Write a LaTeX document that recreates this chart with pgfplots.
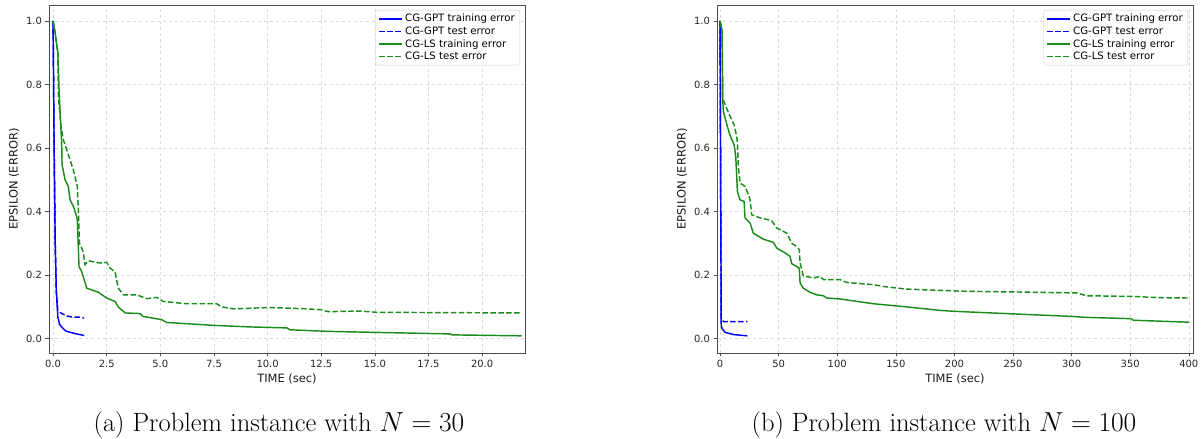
\documentclass[border=0pt]{standalone}
\usepackage{pgfplots}
\pgfplotsset{compat=1.18}
\usepackage{fontspec}
\newfontfamily\dv{DejaVu Sans}
\definecolor{mblue}{rgb}{0,0,1}
\definecolor{mgreen}{rgb}{0.1,0.55,0.1}
\tikzset{tdash/.style={dash pattern=on 5.5bp off 2.4bp}}
\pgfplotsset{myax/.style={
  scale only axis, width=476bp, height=348bp,
  ymin=-0.045, ymax=1.05,
  ytick={0,0.2,0.4,0.6,0.8,1.0},
  yticklabel style={/pgf/number format/fixed,/pgf/number format/fixed zerofill,/pgf/number format/precision=1},
  /pgf/number format/assume math mode=true,
  ticklabel style={font=\dv\fontsize{10}{12}\selectfont, text=black!85},
  label style={font=\dv\fontsize{11.5}{13}\selectfont, text=black!90},
  grid=major, grid style={dashed, black!15, line width=0.5bp},
  axis line style={black!70, line width=0.8bp},
  tick align=outside, tick pos=left, major tick length=3.5bp,
  tick style={black!70, line width=0.6bp},
  xlabel={TIME (sec)}, ylabel={EPSILON (ERROR)},
  xlabel style={at={(axis description cs:0.5,0)}, anchor=north, yshift=-17bp},
  ylabel style={at={(axis description cs:-0.0735,0.5)}, anchor=center},
  legend style={at={(1,1)}, anchor=north east, xshift=-5bp, yshift=-5bp,
    font=\dv\fontsize{10.2}{12}\selectfont, draw=black!20, rounded corners=2pt,
    row sep=-0.5bp, inner xsep=3bp, inner ysep=2bp},
  legend cell align=left,
  every axis plot/.append style={line width=1.45bp},
  gs/.style={mblue, legend image code/.code={\draw[mblue,line width=1.45bp] (0bp,0bp) -- (23bp,0bp);}},
  gd/.style={mblue, tdash, legend image code/.code={\draw[mblue,line width=1.45bp,tdash] (0bp,0bp) -- (23bp,0bp);}},
  ls/.style={mgreen, legend image code/.code={\draw[mgreen,line width=1.45bp] (0bp,0bp) -- (23bp,0bp);}},
  ld/.style={mgreen, tdash, legend image code/.code={\draw[mgreen,line width=1.45bp,tdash] (0bp,0bp) -- (23bp,0bp);}},
}}
\begin{document}
\begin{tikzpicture}[x=1bp,y=1bp]
\path[use as bounding box] (0,0) rectangle (1201,439);
\begin{axis}[myax, at={(49bp,86bp)}, anchor=south west,
  xmin=-0.19, xmax=22.0,
  xtick={0,2.5,5,7.5,10,12.5,15,17.5,20},
  xticklabel style={/pgf/number format/fixed,/pgf/number format/fixed zerofill,/pgf/number format/precision=1}]
\addplot[gs] coordinates {(0,1.0) (0.05,0.6) (0.1,0.3) (0.15,0.15) (0.22,0.07) (0.3,0.045) (0.45,0.033) (0.6,0.024) (0.8,0.02) (1.1,0.015) (1.45,0.01)};
\addlegendentry{CG-GPT training error}
\addplot[gd] coordinates {(0,1.0) (0.05,0.6) (0.1,0.3) (0.15,0.15) (0.22,0.09) (0.3,0.083) (0.45,0.078) (0.6,0.072) (0.9,0.068) (1.2,0.068) (1.45,0.065)};
\addlegendentry{CG-GPT test error}
\addplot[ls] coordinates {(0,1.0) (0.1,0.96) (0.22,0.9) (0.28,0.78) (0.35,0.68) (0.4,0.62) (0.42,0.547) (0.56,0.5) (0.71,0.479) (0.79,0.437) (0.95,0.416) (1.1,0.385) (1.13,0.374) (1.21,0.227) (1.34,0.21) (1.57,0.159) (2.11,0.146) (2.5,0.128) (2.89,0.117) (3.04,0.10) (3.36,0.081) (4.05,0.079) (4.2,0.07) (5.06,0.06) (5.3,0.051) (7.47,0.042) (9.18,0.037) (10.9,0.034) (11.04,0.028) (12.83,0.023) (18.5,0.015) (18.6,0.012) (21.84,0.009)};
\addlegendentry{CG-LS training error}
\addplot[ld] coordinates {(0,1.0) (0.1,0.96) (0.22,0.9) (0.25,0.76) (0.37,0.668) (0.48,0.626) (0.64,0.594) (0.95,0.53) (1.13,0.479) (1.18,0.40) (1.23,0.30) (1.34,0.285) (1.41,0.27) (1.49,0.233) (1.65,0.245) (2.19,0.238) (2.5,0.24) (2.66,0.222) (2.89,0.21) (3.04,0.159) (3.28,0.138) (3.9,0.138) (4.37,0.126) (4.83,0.13) (5.14,0.117) (6.23,0.11) (7.63,0.11) (7.86,0.10) (8.4,0.094) (10.1,0.098) (11.8,0.094) (12.5,0.091) (12.83,0.085) (14.3,0.087) (15.1,0.083) (21.76,0.081)};
\addlegendentry{CG-LS test error}
\end{axis}
\begin{axis}[myax, at={(717bp,86bp)}, anchor=south west,
  xmin=-2.6, xmax=403.6,
  xtick={0,50,100,150,200,250,300,350,400}]
\addplot[gs] coordinates {(0,1.0) (0.5,0.5) (1,0.04) (2,0.03) (4.3,0.02) (11.4,0.013) (23.3,0.009)};
\addlegendentry{CG-GPT training error}
\addplot[gd] coordinates {(0,1.0) (0.5,0.5) (1,0.065) (2.8,0.054) (23.3,0.054)};
\addlegendentry{CG-GPT test error}
\addplot[ls] coordinates {(0,1.0) (1.7,0.97) (2.3,0.75) (2.8,0.715) (6.2,0.668) (8.5,0.64) (12,0.61) (13.4,0.573) (14.8,0.463) (17,0.437) (20.5,0.432) (21.3,0.38) (25.6,0.364) (28.4,0.332) (37,0.313) (45.5,0.303) (48.4,0.285) (55.5,0.27) (59.7,0.259) (61.2,0.236) (65.4,0.227) (67.6,0.222) (68.3,0.175) (71,0.159) (76.8,0.146) (82.5,0.138) (88.2,0.135) (91,0.128) (102.4,0.125) (130.8,0.11) (159.3,0.10) (187.7,0.089) (200.5,0.086) (250.3,0.078) (300.6,0.07) (312.9,0.067) (350.7,0.063) (352.7,0.058) (400,0.052)};
\addlegendentry{CG-LS training error}
\addplot[ld] coordinates {(0,1.0) (1.7,0.97) (2.3,0.76) (2.8,0.75) (5.1,0.73) (8.5,0.70) (12,0.673) (14.2,0.636) (14.8,0.617) (15.6,0.54) (17.1,0.49) (21.3,0.479) (24.2,0.453) (25.6,0.437) (27,0.39) (34,0.38) (44,0.372) (48.4,0.348) (57,0.332) (61.2,0.30) (65.4,0.29) (67.6,0.28) (68.3,0.238) (71,0.198) (79.6,0.191) (85.3,0.196) (88.2,0.186) (102.4,0.186) (108,0.177) (130.8,0.17) (142,0.163) (159.3,0.156) (187.7,0.152) (210.5,0.149) (253.2,0.147) (304.3,0.144) (312.9,0.135) (352.7,0.133) (375.4,0.129) (400,0.128)};
\addlegendentry{CG-LS test error}
\end{axis}
\node[anchor=base, font=\fontsize{20}{24}\selectfont, scale=1.33, inner sep=0pt] at (279,7.5) {(a) Problem instance with $N = 30$};
\node[anchor=base, font=\fontsize{20}{24}\selectfont, scale=1.33, inner sep=0pt] at (944,7.5) {(b) Problem instance with $N = 100$};
\end{tikzpicture}
\end{document}
